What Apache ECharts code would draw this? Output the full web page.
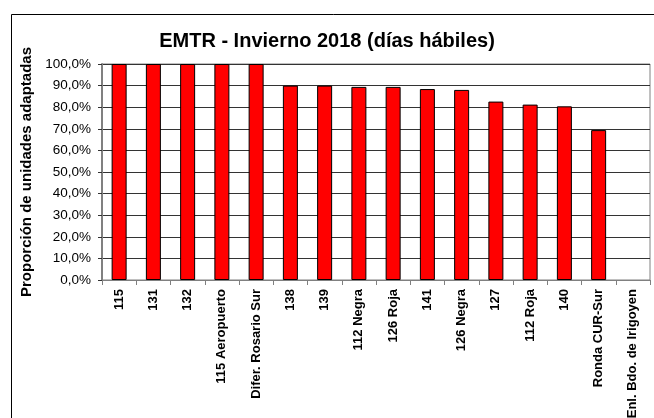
<!DOCTYPE html>
<html>
<head>
<meta charset="utf-8">
<script src="https://cdn.jsdelivr.net/npm/echarts@6/dist/echarts.min.js"></script>
<style>
  html, body { margin: 0; padding: 0; background: #fff; }
  #chart { width: 654px; height: 418px; }
</style>
</head>
<body>
<div id="chart"></div>
<script>
// Líneas y proporción de unidades adaptadas (%)
const lineas = [
  '115', '131', '132', '115 Aeropuerto', 'Difer. Rosario Sur', '138', '139',
  '112 Negra', '126 Roja', '141', '126 Negra', '127', '112 Roja', '140',
  'Ronda CUR-Sur', 'Enl. Bdo. de Irigoyen'
]
const proporcion = [
  100, 100, 100, 100, 100, 90.0, 90.0,
  89.4, 89.4, 88.4, 88.0, 82.6, 81.2, 80.4,
  69.4, 0
]
const titulo = 'EMTR - Invierno 2018 (días hábiles)'
const ejeY = 'Proporción de unidades adaptadas'

const font = 'Arial, "Liberation Sans", sans-serif'

function formatPct(value) {
  return value.toFixed(1).replace('.', ',') + '%'
}

// a zero-height bar draws nothing in the original, so drop its outline
const barData = proporcion.map((v) =>
  v === 0 ? { value: v, itemStyle: { borderWidth: 0 } } : v
)

const chart = echarts.init(document.getElementById('chart'))

chart.setOption({
  animation: false,
  backgroundColor: '#ffffff',
  title: {
    text: titulo,
    left: 'center',
    top: 26,
    textStyle: { fontFamily: font, fontSize: 20, fontWeight: 'bold', color: '#000' }
  },
  graphic: [
    {
      type: 'rect',
      left: 9,
      top: 12,
      shape: { width: 700, height: 500 },
      style: { fill: 'none', stroke: '#000', lineWidth: 1 },
      z: -1
    }
  ],
  grid: {
    left: 102,
    right: 4,
    top: 64,
    bottom: 138,
    outerBoundsMode: 'none',
    show: true,
    borderColor: '#808080',
    borderWidth: 1
  },
  xAxis: {
    type: 'category',
    data: lineas,
    axisLine: { lineStyle: { color: '#808080', width: 1 } },
    axisTick: { show: true, alignWithLabel: false, length: 5, lineStyle: { color: '#808080' } },
    axisLabel: {
      rotate: 90,
      interval: 0,
      margin: 9,
      fontFamily: font,
      fontSize: 13,
      fontWeight: 'bold',
      color: '#000'
    }
  },
  yAxis: {
    type: 'value',
    min: 0,
    max: 100,
    interval: 10,
    name: ejeY,
    nameLocation: 'middle',
    nameRotate: 90,
    nameGap: 66,
    nameTextStyle: { fontFamily: font, fontSize: 15, fontWeight: 'bold', color: '#000' },
    axisLine: { show: true, lineStyle: { color: '#808080', width: 2 } },
    axisTick: { show: true, length: 4, lineStyle: { color: '#333' } },
    axisLabel: {
      formatter: formatPct,
      margin: 11,
      fontFamily: font,
      fontSize: 13.5,
      color: '#000'
    },
    splitLine: { lineStyle: { color: '#333', width: 1 } }
  },
  series: [
    {
      type: 'bar',
      data: barData,
      barWidth: 15,
      itemStyle: { color: '#ff0000', borderColor: '#000', borderWidth: 1 }
    }
  ]
})
</script>
</body>
</html>
